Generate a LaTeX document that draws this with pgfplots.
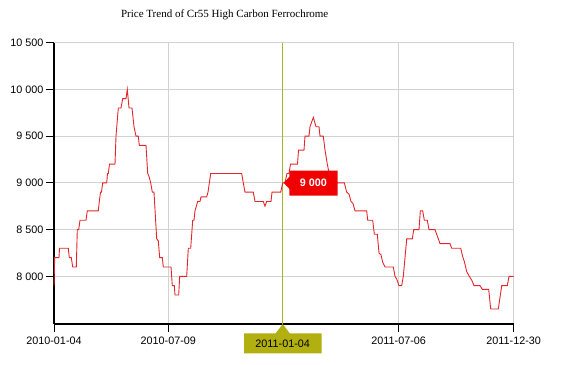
\documentclass[border=0pt]{standalone}
\usepackage{pgfplots}
\pgfplotsset{compat=1.18}
\usepackage{fontspec}
\setmainfont{Liberation Sans}
\newfontfamily\titlefont{Liberation Serif}
\definecolor{linered}{RGB}{228,38,42}
\definecolor{tipred}{RGB}{240,0,0}
\definecolor{olivebox}{RGB}{178,176,16}
\definecolor{crossline}{RGB}{165,180,40}
\definecolor{gridgray}{RGB}{210,210,210}
\begin{document}
\begin{tikzpicture}
\path[use as bounding box] (0pt,0pt) rectangle (564pt,364pt);
\node[font=\titlefont\fontsize{11}{13}\selectfont] at (224.7pt,349pt) {Price Trend of Cr55 High Carbon Ferrochrome};
\begin{axis}[
  at={(54pt,40pt)}, anchor=south west,
  scale only axis, width=459.7pt, height=281.4pt,
  xmin=54, xmax=513.7, ymin=7490, ymax=10500,
  clip=false,
  scaled y ticks=false, scaled x ticks=false,
  axis x line*=bottom, axis y line*=left,
  axis line style={-, black, line width=1.6pt},
  xtick={54,168.3,282.7,398.7,513.7},
  xticklabels={2010-01-04,2010-07-09,{},2011-07-06,2011-12-30},
  ytick={8000,8500,9000,9500,10000,10500},
  yticklabels={8 000,8 500,9 000,9 500,10 000,10 500},
  tick align=outside,
  major tick length=8pt,
  tick style={black, line width=0.8pt},
  xmajorgrids, ymajorgrids,
  grid style={gridgray, line width=0.8pt},
  tick label style={font=\fontsize{10.8}{12}\selectfont},
  xticklabel style={yshift=-1pt},
  yticklabel style={xshift=1pt},
]
\draw[crossline, line width=1pt] (axis cs:282.7,7490) -- (axis cs:282.7,10500);
\addplot[linered, line width=0.9pt, mark=none] coordinates {
(54,7900) (54.7,8200) (59,8200) (59.5,8300) (68.3,8300) (69.3,8200) (71.3,8200) (72.7,8100)
(76.3,8100) (77.3,8500) (78.7,8500) (80,8600) (86,8600) (87.3,8700) (98.3,8700) (99.3,8800)
(100.5,8900) (101.5,8900) (102.7,9000) (106.7,9000) (107.5,9100) (108.3,9100) (109.5,9200)
(115,9200) (116,9500) (118.3,9800) (121,9800) (122.7,9900) (126,9900) (127.3,10000)
(129,9800) (132,9800) (134,9600) (136,9500) (138.3,9500) (139.3,9400) (146,9400)
(147.7,9100) (149,9070) (150.7,9000) (152.3,8900) (154,8900) (156.7,8400) (158.3,8380)
(159.7,8200) (162.3,8200) (163.3,8100) (171,8100) (172.3,7900) (174.3,7900) (175,7800)
(178.7,7800) (179.7,8000) (186.7,8000) (188.3,8300) (190.7,8300) (192.7,8600) (194,8600)
(195,8700) (197.7,8800) (200,8800) (201,8850) (206.7,8850) (208,8900) (210.7,9100)
(241.7,9100) (243.3,9000) (245,8900) (253.3,8900) (255,8800) (263.3,8800) (265,8750)
(266.7,8800) (271,8800) (272,8900) (280.7,8900) (282.7,9000) (285,9000) (287,9100)
(289,9100) (290.5,9200) (297.5,9200) (298.5,9350) (304,9350) (305,9500) (309,9500)
(310,9600) (313.3,9700) (316,9600) (319,9600) (320,9500) (323.3,9500) (325,9350)
(327.3,9200) (331,9000) (344.3,9000) (346.7,8900) (349,8880) (351,8800) (353,8780)
(355,8700) (366.7,8700) (367.7,8600) (372.7,8600) (374.3,8450) (377.3,8450) (379,8250)
(381,8230) (382.7,8150) (385,8100) (393.3,8100) (395,8000) (396.7,7970) (399,7900)
(401.7,7900) (403.3,8000) (405,8200) (406.7,8400) (412.3,8400) (413.7,8500) (419,8500)
(420.3,8700) (422.7,8700) (424.3,8600) (427.3,8600) (429,8500) (435,8500) (436.7,8450)
(440,8350) (450,8350) (451.7,8300) (460.7,8300) (462.7,8210) (464.3,8160) (466.7,8050)
(469.3,8000) (471.7,7960) (474,7900) (480,7900) (482.3,7860) (488.7,7860) (490.7,7650)
(498.3,7650) (501.7,7900) (507.3,7900) (509,8000) (513.7,8000)
};
\coordinate (P) at (axis cs:282.7,9000);
\fill[tipred] ([xshift=1pt]P) -- ([xshift=6.6pt,yshift=6pt]P) -- ([xshift=6.6pt,yshift=12.3pt]P)
  -- ([xshift=55pt,yshift=12.3pt]P) -- ([xshift=55pt,yshift=-12.7pt]P)
  -- ([xshift=6.6pt,yshift=-12.7pt]P) -- ([xshift=6.6pt,yshift=-6pt]P) -- cycle;
\node[white, font=\bfseries\fontsize{10.8}{12}\selectfont] at ([xshift=30.8pt,yshift=-0.2pt]P) {9 000};
\coordinate (Q) at (axis cs:282.7,7490);
\fill[olivebox] (Q) -- ([xshift=7pt,yshift=-9.3pt]Q) -- ([xshift=39pt,yshift=-9.3pt]Q)
  -- ([xshift=39pt,yshift=-29.3pt]Q) -- ([xshift=-38.7pt,yshift=-29.3pt]Q)
  -- ([xshift=-38.7pt,yshift=-9.3pt]Q) -- ([xshift=-7pt,yshift=-9.3pt]Q) -- cycle;
\node[black, font=\fontsize{10.8}{12}\selectfont] at ([yshift=-19.3pt]Q) {2011-01-04};
\end{axis}
\end{tikzpicture}
\end{document}
